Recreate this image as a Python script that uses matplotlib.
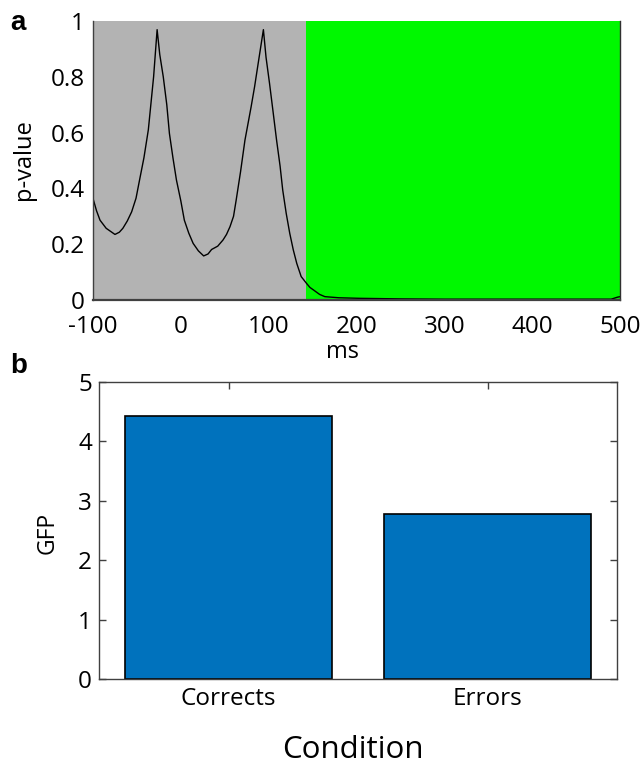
import matplotlib
matplotlib.use("Agg")
import matplotlib.pyplot as plt
import numpy as np

plt.rcParams['font.family'] = ['Open Sans', 'DejaVu Sans']
plt.rcParams['axes.unicode_minus'] = False

# Panel a: p-value time course
time_ms = [-100, -96, -92, -85, -75, -70, -66, -61, -56, -51, -47, -42, -37, -31, -27,
           -24, -20, -16, -13, -9, -5, 0, 4, 9, 14, 20, 26, 31, 35, 42, 48, 52, 56, 60,
           63, 68, 73, 80, 84, 88, 94, 97, 101, 105, 109, 113, 116, 120, 124, 128, 132,
           137, 143, 147, 151, 158, 164, 180, 203, 250, 300, 350, 400, 450, 490, 497, 500]
p_value = [0.364, 0.32, 0.286, 0.257, 0.235, 0.243, 0.257, 0.283, 0.316, 0.365, 0.43,
           0.51, 0.61, 0.80, 0.969, 0.88, 0.80, 0.70, 0.597, 0.51, 0.43, 0.355, 0.286,
           0.24, 0.203, 0.176, 0.158, 0.165, 0.181, 0.193, 0.215, 0.235, 0.263, 0.30,
           0.358, 0.46, 0.573, 0.692, 0.765, 0.847, 0.969, 0.87, 0.776, 0.675, 0.573,
           0.48, 0.394, 0.31, 0.239, 0.18, 0.131, 0.084, 0.060, 0.045, 0.036, 0.020,
           0.012, 0.008, 0.006, 0.004, 0.003, 0.003, 0.003, 0.003, 0.003, 0.010, 0.012]
sig_onset_ms = 143
x_ticks_a = [-100, 0, 100, 200, 300, 400, 500]
y_ticks_a = [0, 0.2, 0.4, 0.6, 0.8, 1]
y_tick_labels_a = ['0', '0.2', '0.4', '0.6', '0.8', '1']

# Panel b: GFP per condition
conditions = ['Corrects', 'Errors']
gfp = [4.42, 2.77]
y_ticks_b = [0, 1, 2, 3, 4, 5]

axis_color = '#404040'
W, H = 644, 764
fig = plt.figure(figsize=(W / 100, H / 100), dpi=100)


def frac(l, r, t, b):
    return [l / W, 1 - b / H, (r - l) / W, (b - t) / H]


# ---- panel a ----
ax1 = fig.add_axes(frac(93, 620, 21, 300))
ax1.axvspan(-100, sig_onset_ms, color='#b3b3b3', lw=0, zorder=0)
ax1.axvspan(sig_onset_ms, 500, color='#00f800', lw=0, zorder=0)
ax1.plot(time_ms, p_value, color='black', lw=1.0, zorder=2)
ax1.set_xlim(-100, 500)
ax1.set_ylim(0, 1)
ax1.set_xticks(x_ticks_a)
ax1.set_yticks(y_ticks_a)
ax1.set_yticklabels(y_tick_labels_a)
ax1.tick_params(direction='in', length=0, labelsize=17.5, colors='black')
ax1.tick_params(axis='x', pad=10.5)
ax1.tick_params(axis='y', pad=6)
for s in ax1.spines.values():
    s.set_color(axis_color)
    s.set_linewidth(1.0)
ax1.spines['top'].set_visible(False)
ax1.spines['right'].set_color('#303030')
ax1.spines['bottom'].set_linewidth(1.6)
ax1.set_ylabel('p-value', fontsize=17)
ax1.yaxis.set_label_coords(-0.131, 0.505)
ax1.yaxis.label.set_va('center')
ax1.set_xlabel('ms', fontsize=17)
ax1.xaxis.set_label_coords(0.474, -0.185)
ax1.xaxis.label.set_va('center')
fig.text(10 / W, 1 - 30 / H, 'a', fontsize=20, fontweight='bold',
         family='Liberation Sans', va='baseline')

# ---- panel b ----
ax2 = fig.add_axes(frac(99, 617, 382, 679))
x = np.arange(1, len(conditions) + 1)
ax2.bar(x, gfp, width=0.8, color='#0072bd', edgecolor='black', linewidth=1.2, zorder=2)
ax2.set_xlim(0.5, 2.5)
ax2.set_ylim(0, 5)
ax2.set_xticks(x)
ax2.set_xticklabels(conditions)
ax2.set_yticks(y_ticks_b)
ax2.tick_params(direction='in', length=5, width=1, color=axis_color, labelsize=17.5,
                labelcolor='black', top=True, right=True)
ax2.tick_params(axis='x', pad=6)
ax2.tick_params(axis='y', pad=5)
for s in ax2.spines.values():
    s.set_color(axis_color)
    s.set_linewidth(1.0)
ax2.set_ylabel('GFP', fontsize=16.5)
ax2.yaxis.set_label_coords(-0.0985, 0.492)
ax2.yaxis.label.set_va('center')
ax2.set_xlabel('Condition', fontsize=22.5)
ax2.xaxis.set_label_coords(0.49, -0.239)
ax2.xaxis.label.set_va('center')
fig.text(10 / W, 1 - 373 / H, 'b', fontsize=20, fontweight='bold',
         family='Liberation Sans', va='baseline')

fig.savefig('out.png', dpi=100)
